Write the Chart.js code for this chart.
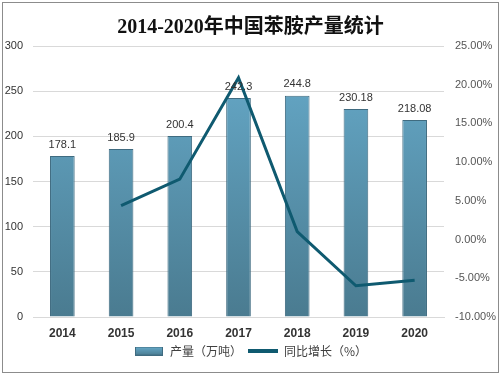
<!DOCTYPE html>
<html>
<head>
<meta charset="utf-8">
<script src="https://cdn.jsdelivr.net/npm/chart.js@4/dist/chart.umd.min.js"></script>
<style>
  html, body { margin: 0; padding: 0; background: #fff; }
  #wrap { width: 501px; height: 375px; position: relative; }
</style>
</head>
<body>
<div id="wrap"><canvas id="chart" width="501" height="375"></canvas></div>
<script>
const years = ['2014', '2015', '2016', '2017', '2018', '2019', '2020'];
const output = [178.1, 185.9, 200.4, 242.3, 244.8, 230.18, 218.08];
const growth = [null, 4.38, 7.80, 20.91, 1.03, -5.97, -5.26];
const leftTicks = [0, 300, 50];
const rightTicks = [-10, 25, 5];

const titleText = '2014-2020年中国苯胺产量统计';
const lineColor = '#0f5a70';

function barGradient(ctx, top, bottom) {
    const g = ctx.createLinearGradient(0, top, 0, bottom);
    g.addColorStop(0, '#67abcb');
    g.addColorStop(1, '#4a7b90');
    return g;
}

// legend swatches
function makeBarSwatch() {
    const c = document.createElement('canvas');
    c.width = 28; c.height = 9;
    const x = c.getContext('2d');
    x.fillStyle = barGradient(x, 0, 9);
    x.fillRect(0, 0, 28, 9);
    x.strokeStyle = '#3f6b80';
    x.strokeRect(0.5, 0.5, 27, 8);
    return c;
}
function makeLineSwatch() {
    const c = document.createElement('canvas');
    c.width = 30; c.height = 4;
    const x = c.getContext('2d');
    x.fillStyle = lineColor;
    x.fillRect(0, 0, 30, 4);
    return c;
}

const framePlugin = {
    id: 'frame',
    beforeDraw(chart) {
        const ctx = chart.ctx;
        ctx.save();
        ctx.fillStyle = '#fff';
        ctx.fillRect(0, 0, chart.width, chart.height);
        ctx.strokeStyle = '#8c8c8c';
        ctx.lineWidth = 1;
        ctx.strokeRect(2.5, 2.5, chart.width - 5, chart.height - 5);
        ctx.font = 'bold 20px "Liberation Serif", "Noto Sans CJK SC", serif';
        ctx.fillStyle = '#111';
        ctx.textAlign = 'center';
        ctx.textBaseline = 'middle';
        ctx.fillText(titleText, chart.width / 2, 28);
        ctx.restore();
    },
    afterDatasetsDraw(chart) {
        const ctx = chart.ctx;
        const meta = chart.getDatasetMeta(0);
        ctx.save();
        ctx.font = '11px "Liberation Sans", "DejaVu Sans", sans-serif';
        ctx.fillStyle = '#333';
        ctx.textAlign = 'center';
        ctx.textBaseline = 'bottom';
        meta.data.forEach((bar, i) => {
            ctx.fillText(String(output[i]), bar.x, bar.y - 6);
        });
        ctx.restore();
    }
};

new Chart(document.getElementById('chart').getContext('2d'), {
    type: 'bar',
    data: {
        labels: years,
        datasets: [{
            type: 'bar',
            label: '产量（万吨）',
            data: output,
            yAxisID: 'y',
            order: 2,
            backgroundColor: (c) => {
                const a = c.chart.chartArea;
                if (!a) return '#5a93ad';
                return barGradient(c.chart.ctx, a.top, a.bottom);
            },
            borderColor: '#3f6b80',
            borderWidth: 1,
            barPercentage: 0.42,
            categoryPercentage: 1
        }, {
            type: 'line',
            label: '同比增长（%）',
            data: growth,
            yAxisID: 'y1',
            order: 1,
            borderColor: lineColor,
            backgroundColor: lineColor,
            borderWidth: 3,
            pointRadius: 0,
            tension: 0,
            spanGaps: false
        }]
    },
    options: {
        responsive: false,
        animation: false,
        layout: { padding: { top: 46, left: 0, right: 0, bottom: 8 } },
        scales: {
            x: {
                grid: { display: false, drawTicks: false },
                border: { color: '#d9d9d9' },
                ticks: {
                    color: '#333',
                    font: { family: '"Liberation Sans", "DejaVu Sans", sans-serif', size: 12, weight: 'bold' },
                    padding: 9
                },
                afterFit: (s) => { s.height = 22; }
            },
            y: {
                position: 'left',
                min: leftTicks[0],
                max: leftTicks[1],
                ticks: {
                    stepSize: leftTicks[2],
                    color: '#333',
                    font: { family: '"Liberation Sans", "DejaVu Sans", sans-serif', size: 11 },
                    padding: 10
                },
                grid: { color: '#d9d9d9', drawTicks: false },
                border: { display: false },
                afterFit: (s) => { s.width = 33; }
            },
            y1: {
                position: 'right',
                min: rightTicks[0],
                max: rightTicks[1],
                ticks: {
                    stepSize: rightTicks[2],
                    color: '#555',
                    font: { family: '"Liberation Sans", "DejaVu Sans", sans-serif', size: 11 },
                    padding: 11,
                    callback: (v) => v.toFixed(2) + '%'
                },
                grid: { display: false, drawTicks: false },
                border: { display: false },
                afterFit: (s) => { s.width = 57; }
            }
        },
        plugins: {
            title: { display: false },
            tooltip: { enabled: false },
            legend: {
                position: 'bottom',
                labels: {
                    usePointStyle: true,
                    pointStyleWidth: 30,
                    padding: 6,
                    color: '#404040',
                    font: { family: '"Noto Sans CJK SC", sans-serif', size: 12 },
                    generateLabels: (chart) => {
                        const swatches = [makeBarSwatch(), makeLineSwatch()];
                        return chart.data.datasets.map((ds, i) => ({
                            text: ds.label,
                            datasetIndex: i,
                            pointStyle: swatches[i],
                            fillStyle: lineColor,
                            strokeStyle: lineColor,
                            lineWidth: 0,
                            fontColor: '#404040',
                            hidden: false
                        }));
                    }
                }
            }
        }
    },
    plugins: [framePlugin]
});
</script>
</body>
</html>
